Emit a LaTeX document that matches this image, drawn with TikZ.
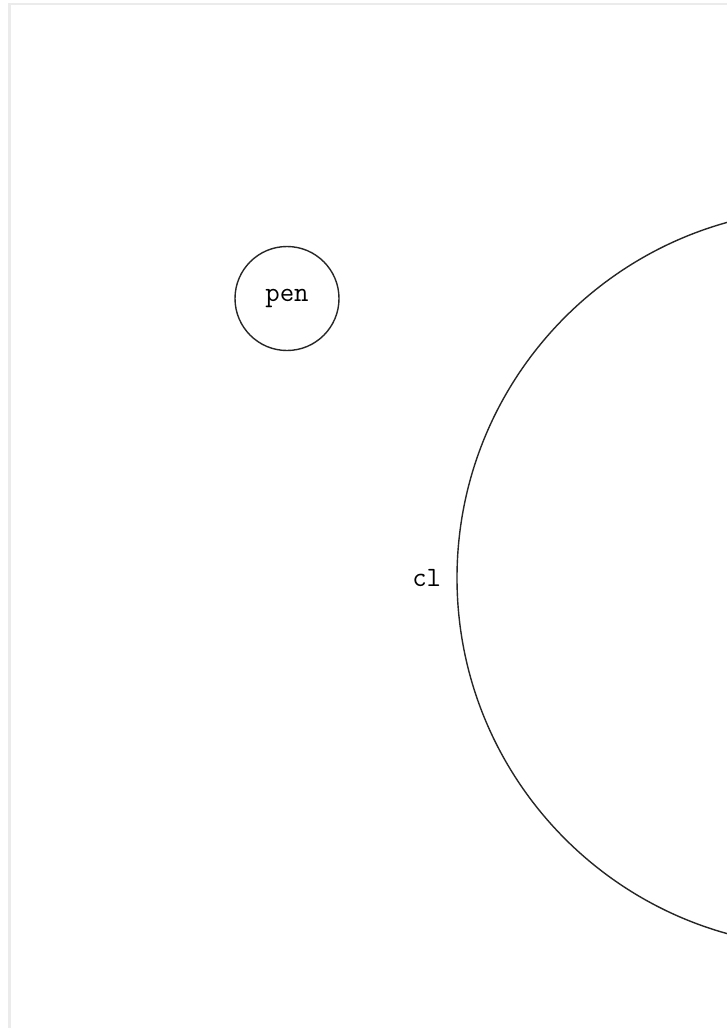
\documentclass[tikz,border=0pt]{standalone}
\begin{document}
\begin{tikzpicture}[x=1pt,y=-1pt,
  every node/.style={font=\ttfamily\fontsize{28}{32}\selectfont},
  ring/.style={draw=black!85, line width=1.4pt, circle, inner sep=0pt}]
\useasboundingbox (0,0) rectangle (727,1028);
\clip (0,0) rectangle (727,1028);
\fill[white] (0,0) rectangle (727,1028);
\draw[black!8, line width=2.5pt] (9.5,4) rectangle (760,1060);
\node[ring, minimum size=104pt] (pen) at (287,298.5) {pen};
\node[ring, minimum size=738pt, label={[inner sep=0pt, label distance=15pt]left:cl}] (cl) at (826,578) {};
\end{tikzpicture}
\end{document}
